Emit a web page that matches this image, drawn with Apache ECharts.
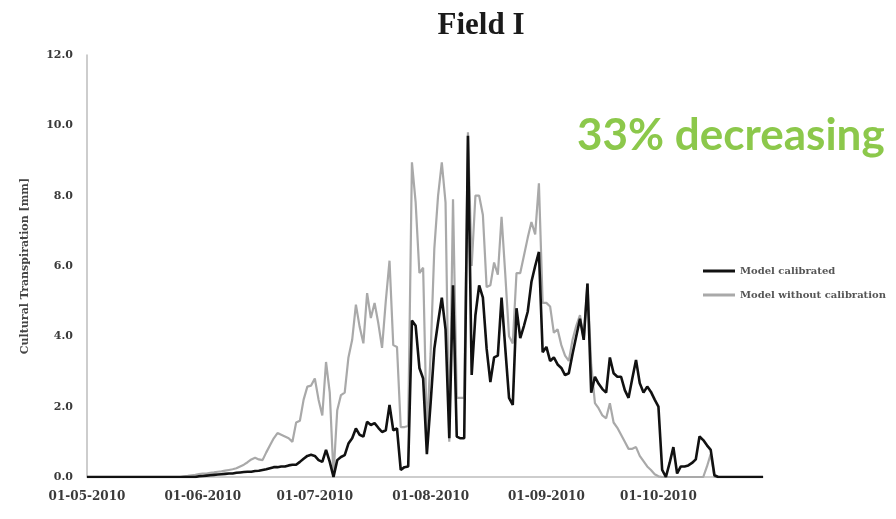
<!DOCTYPE html>
<html>
<head>
<meta charset="utf-8">
<script src="https://cdn.jsdelivr.net/npm/echarts@6/dist/echarts.min.js"></script>
<style>
  html, body { margin: 0; padding: 0; background: #fff; }
  #chart { width: 896px; height: 519px; }
</style>
</head>
<body>
<div id="chart"></div>
<script>
// Daily cultural transpiration [mm], Field I, season starting 01-05-2010
const startDate = [2010, 4, 1]; // year, month index (0-based), day
const yTicks = [0, 2, 4, 6, 8, 10, 12];

const modelCalibrated = [
  0,0,0,0,0,0,0,0,0,0, 0,0,0,0,0,0,0,0,0,0, 0,0,0,0,0,0,0,0,0,0,
  0.02,0.03,0.04,0.05,0.06,0.07,0.08,0.09,0.1,0.1,
  0.12,0.13,0.14,0.15,0.15,0.17,0.18,0.2,0.22,0.25,
  0.28,0.28,0.3,0.3,0.33,0.35,0.35,0.43,0.52,0.6,
  0.63,0.6,0.48,0.43,0.77,0.43,0,0.48,0.57,0.62,
  0.95,1.1,1.38,1.2,1.15,1.57,1.48,1.53,1.4,1.28,
  1.33,2.05,1.33,1.38,0.2,0.28,0.3,4.45,4.3,3.1,
  2.8,0.65,2.1,3.65,4.4,5.1,4.2,1.1,5.45,1.15,
  1.1,1.1,9.7,2.9,4.6,5.45,5.1,3.65,2.7,3.4,
  3.45,5.1,3.65,2.25,2.05,4.8,3.95,4.3,4.7,5.55,
  6.0,6.4,3.55,3.7,3.3,3.4,3.2,3.1,2.9,2.95,
  3.5,4.0,4.5,3.9,5.5,2.4,2.85,2.65,2.5,2.4,
  3.4,2.95,2.85,2.85,2.47,2.25,2.8,3.33,2.67,2.4,
  2.57,2.42,2.2,2.0,0.2,0,0.4,0.85,0.1,0.3,
  0.3,0.33,0.4,0.5,1.15,1.05,0.9,0.77,0.05,0,
  0,0,0,0,0,0,0,0,0,0,0,0
];

const modelWithoutCalibration = [
  0,0,0,0,0,0,0,0,0,0, 0,0,0,0,0,0,0,0,0,0, 0,0,0,0,0,0,
  0.02,0.03,0.05,0.06,
  0.08,0.1,0.1,0.12,0.13,0.15,0.16,0.18,0.2,0.22,
  0.25,0.3,0.35,0.42,0.5,0.55,0.5,0.48,0.7,0.9,
  1.1,1.25,1.2,1.15,1.1,1.0,1.55,1.6,2.2,2.57,
  2.6,2.8,2.2,1.75,3.27,2.4,0.05,1.9,2.33,2.4,
  3.4,3.9,4.9,4.27,3.8,5.23,4.52,4.95,4.37,3.67,
  5.0,6.15,3.75,3.7,1.42,1.42,1.45,8.95,7.8,5.8,
  5.95,1.2,3.5,6.5,8.0,8.95,7.8,1.0,7.9,2.25,
  2.25,2.25,9.8,6.0,8.0,8.0,7.45,5.4,5.45,6.1,
  5.75,7.4,5.75,4.0,3.8,5.8,5.8,6.3,6.8,7.25,
  6.9,8.35,4.95,4.95,4.85,4.1,4.2,3.75,3.45,3.3,
  3.9,4.3,4.6,3.9,5.5,3.2,2.1,1.95,1.75,1.67,
  2.1,1.55,1.4,1.2,1.0,0.8,0.8,0.85,0.6,0.45,
  0.3,0.2,0.08,0.02,0,0,0,0,0,0,
  0,0,0,0,0,0,0.3,0.65,0,0,
  0,0,0,0,0,0,0,0,0,0,0
];

// One category per day, labelled dd-mm-yyyy
const pad = n => String(n).padStart(2, '0');
const dayCount = Math.max(modelCalibrated.length, modelWithoutCalibration.length);
const categories = [];
for (let i = 0; i < dayCount; i++) {
  const d = new Date(startDate[0], startDate[1], startDate[2] + i);
  categories.push(pad(d.getDate()) + '-' + pad(d.getMonth() + 1) + '-' + d.getFullYear());
}

const serif = '"DejaVu Serif", "Liberation Serif", serif';
const chart = echarts.init(document.getElementById('chart'));
chart.setOption({
  animation: false,
  backgroundColor: '#ffffff',
  title: [
    {
      text: 'Field I',
      left: 476, top: 5, textAlign: 'center',
      textStyle: { fontFamily: '"Liberation Serif", serif', fontWeight: 'bold', fontSize: 31, color: '#1a1a1a' }
    },
    {
      text: '33% decreasing',
      left: 572, top: 109,
      textStyle: { fontFamily: 'Lato, "Open Sans", sans-serif', fontWeight: 'bold', fontSize: 44, color: '#8cc84b' }
    }
  ],
  legend: {
    orient: 'vertical',
    left: 698, top: 261,
    icon: 'rect',
    itemWidth: 32, itemHeight: 3, itemGap: 14,
    textStyle: { fontFamily: serif, fontWeight: 'bold', fontSize: 10, color: '#555' },
    data: ['Model calibrated', 'Model without calibration']
  },
  grid: { left: 87, right: 133, top: 55, bottom: 42, containLabel: false },
  xAxis: {
    type: 'category',
    data: categories,
    boundaryGap: false,
    axisLine: { lineStyle: { color: '#bdbdbd', width: 1.5 } },
    axisTick: { show: false },
    axisLabel: {
      interval: (idx, val) => val.startsWith('01-'),
      margin: 14,
      fontFamily: serif, fontWeight: 'bold', fontSize: 12, color: '#3a3a3a'
    },
    splitLine: { show: false }
  },
  yAxis: {
    type: 'value',
    min: yTicks[0], max: yTicks[yTicks.length - 1], interval: 2,
    name: 'Cultural Transpiration [mm]',
    nameLocation: 'middle', nameGap: 56, nameRotate: 90,
    nameTextStyle: { fontFamily: serif, fontWeight: 'bold', fontSize: 11, color: '#444' },
    axisLine: { show: true, lineStyle: { color: '#bdbdbd', width: 1.5 } },
    axisTick: { show: false },
    axisLabel: {
      margin: 14,
      formatter: v => v.toFixed(1),
      fontFamily: serif, fontWeight: 'bold', fontSize: 11, color: '#3a3a3a'
    },
    splitLine: { show: false }
  },
  series: [
    {
      name: 'Model calibrated',
      type: 'line',
      data: modelCalibrated,
      symbol: 'none',
      z: 3,
      lineStyle: { color: '#111111', width: 2.6 },
      itemStyle: { color: '#111111' }
    },
    {
      name: 'Model without calibration',
      type: 'line',
      data: modelWithoutCalibration,
      symbol: 'none',
      z: 2,
      lineStyle: { color: '#a9a9a9', width: 2.2 },
      itemStyle: { color: '#a9a9a9' }
    }
  ]
});
</script>
</body>
</html>
